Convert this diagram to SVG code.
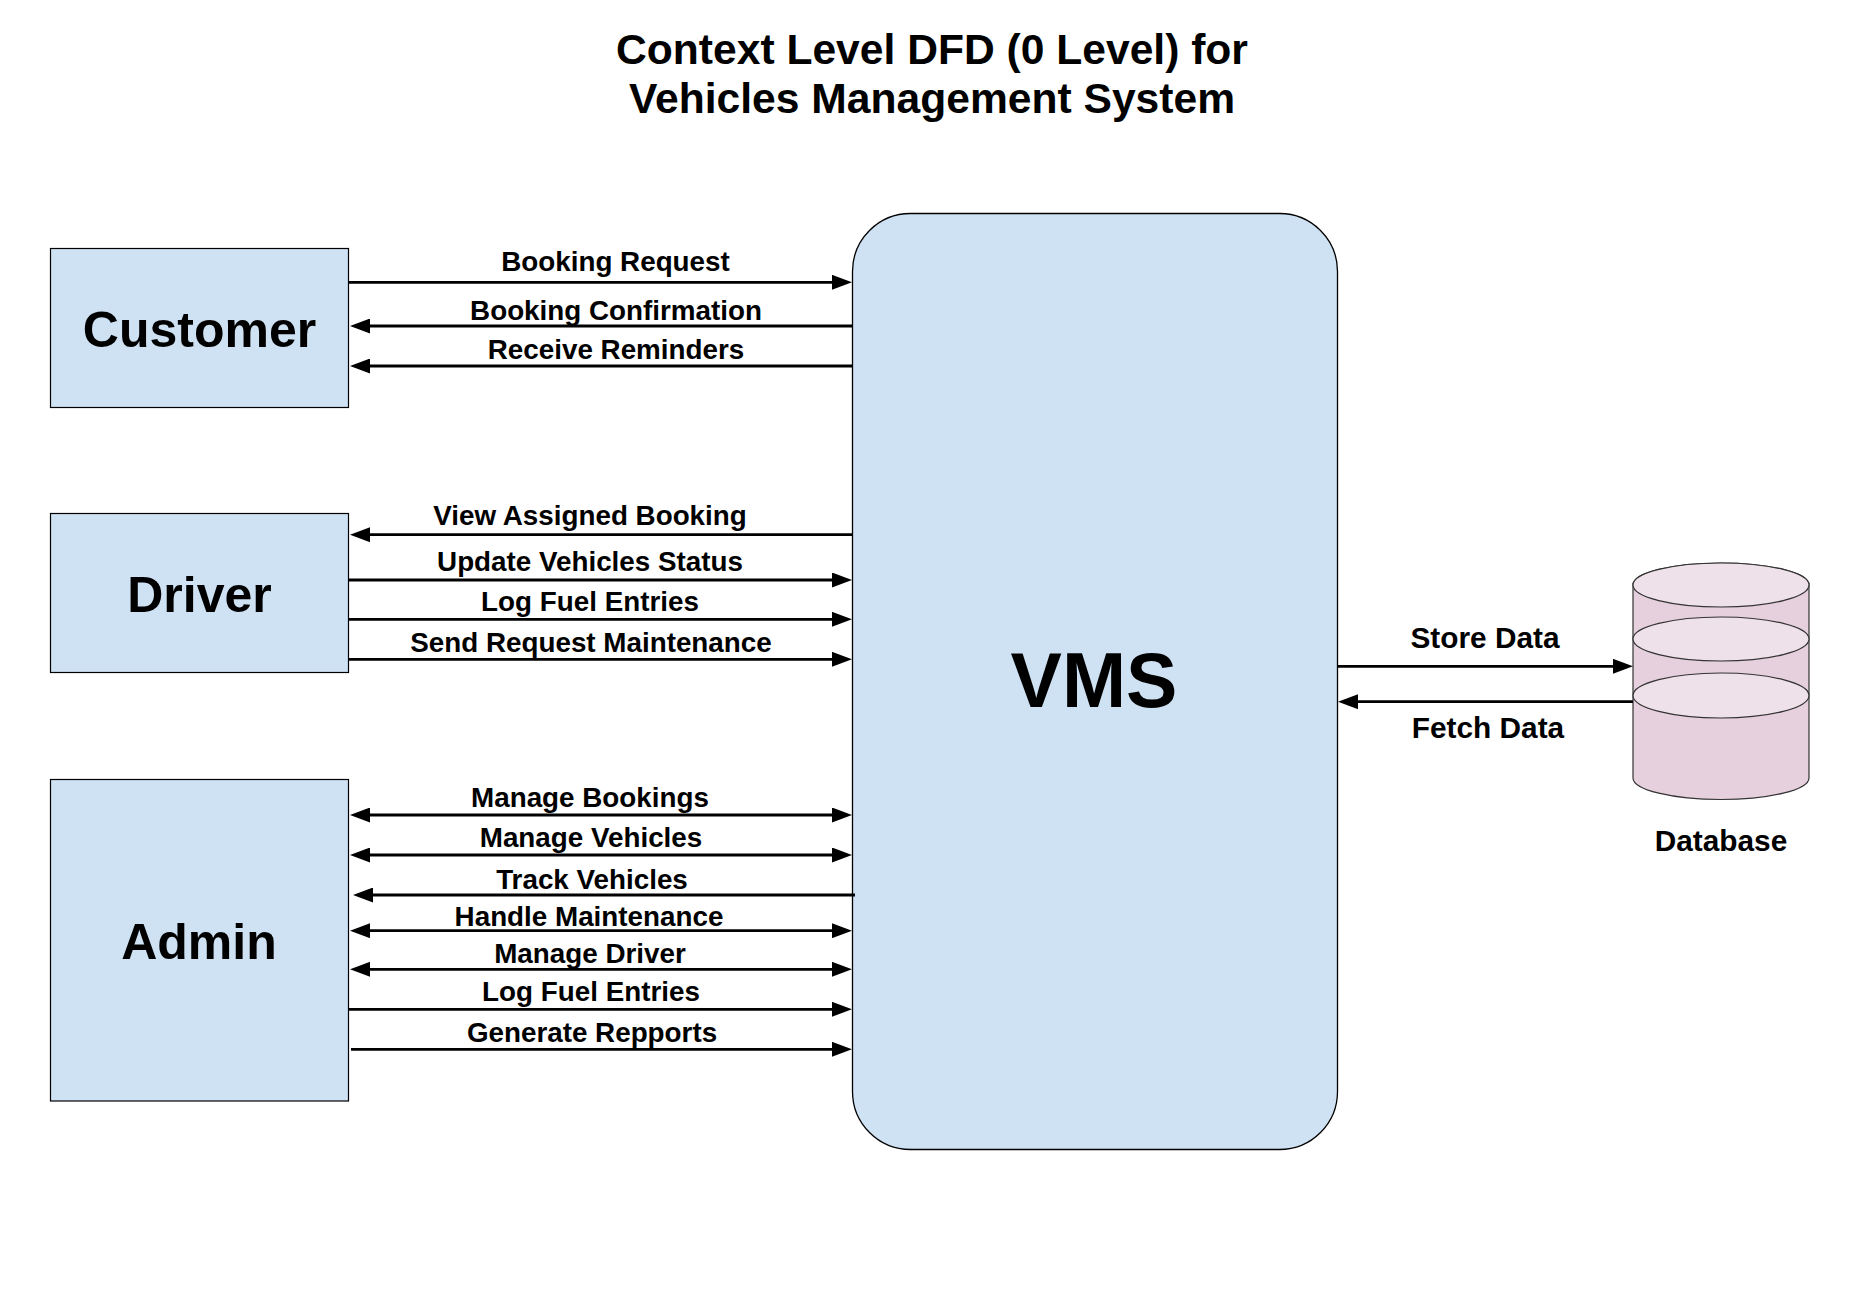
<svg xmlns="http://www.w3.org/2000/svg" width="1874" height="1313" viewBox="0 0 1874 1313">
<style>
.bg{fill:#ffffff}
.ent{fill:#cfe2f3;stroke:#000000;stroke-width:1.2}
.proc{fill:#cfe2f3;stroke:#000000;stroke-width:1.3}
.t{font-family:"Liberation Sans",Arial,sans-serif;font-weight:bold;fill:#000000;text-anchor:middle}
.title{font-size:42.6px}
.node{font-size:50px}
.vms{font-size:77px}
.lbl{font-size:27.8px}
.rl{font-size:29.8px}
.fl{fill:none;stroke:#000000;stroke-width:2.8}
.cylb{fill:#e6d0de;stroke:#333333;stroke-width:1.2}
.cyle{fill:#efe1e9;stroke:#333333;stroke-width:1.2}
</style>
<defs>
<marker id="ah" viewBox="0 0 20 15" refX="12" refY="7.5" markerWidth="20" markerHeight="15" markerUnits="userSpaceOnUse" orient="auto-start-reverse">
<path d="M0,0 L20,7.5 L0,15 z" fill="#000000"/>
</marker>
</defs>
<rect class="bg" x="0" y="0" width="1874" height="1313"/>
<g id="title">
<text class="t title" x="932" y="64">Context Level DFD (0 Level) for</text>
<text class="t title" x="932" y="113">Vehicles Management System</text>
</g>
<g id="customer">
<rect class="ent" x="50.5" y="248.5" width="298" height="159"/>
<text class="t node" x="199.5" y="346.5">Customer</text>
</g>
<g id="driver">
<rect class="ent" x="50.5" y="513.5" width="298" height="159"/>
<text class="t node" x="199.5" y="611.5">Driver</text>
</g>
<g id="admin">
<rect class="ent" x="50.5" y="779.5" width="298" height="321.5"/>
<text class="t node" x="199" y="958.5">Admin</text>
</g>
<g id="vms">
<rect class="proc" x="852.5" y="213.5" width="485" height="936" rx="58" ry="58"/>
<text class="t vms" x="1094" y="707">VMS</text>
</g>
<g id="database">
<path class="cylb" d="M1633,585 L1633,778 A88,21.5 0 0 0 1809,778 L1809,585 A88,22 0 0 0 1633,585 z"/>
<ellipse class="cyle" cx="1721" cy="585" rx="88" ry="22"/>
<ellipse class="cyle" cx="1721" cy="639" rx="88" ry="22"/>
<ellipse class="cyle" cx="1721" cy="695.5" rx="88" ry="22.5"/>
<text class="t rl" x="1721" y="851">Database</text>
</g>
<g id="connectors">
<line class="fl" x1="349" y1="282.3" x2="844" y2="282.3" marker-end="url(#ah)"/>
<line class="fl" x1="852" y1="326" x2="358" y2="326" marker-end="url(#ah)"/>
<line class="fl" x1="852" y1="366" x2="358" y2="366" marker-end="url(#ah)"/>
<line class="fl" x1="852" y1="534.7" x2="358" y2="534.7" marker-end="url(#ah)"/>
<line class="fl" x1="349" y1="580" x2="844" y2="580" marker-end="url(#ah)"/>
<line class="fl" x1="349" y1="619.3" x2="844" y2="619.3" marker-end="url(#ah)"/>
<line class="fl" x1="349" y1="659.3" x2="844" y2="659.3" marker-end="url(#ah)"/>
<line class="fl" x1="358" y1="815" x2="844" y2="815" marker-start="url(#ah)" marker-end="url(#ah)"/>
<line class="fl" x1="358" y1="855" x2="844" y2="855" marker-start="url(#ah)" marker-end="url(#ah)"/>
<line class="fl" x1="855" y1="895" x2="361" y2="895" marker-end="url(#ah)"/>
<line class="fl" x1="358" y1="930.7" x2="844" y2="930.7" marker-start="url(#ah)" marker-end="url(#ah)"/>
<line class="fl" x1="358" y1="969.3" x2="844" y2="969.3" marker-start="url(#ah)" marker-end="url(#ah)"/>
<line class="fl" x1="349" y1="1009.3" x2="844" y2="1009.3" marker-end="url(#ah)"/>
<line class="fl" x1="351" y1="1049.3" x2="844" y2="1049.3" marker-end="url(#ah)"/>
<line class="fl" x1="1337.5" y1="666.3" x2="1625" y2="666.3" marker-end="url(#ah)"/>
<line class="fl" x1="1633" y1="701.7" x2="1346" y2="701.7" marker-end="url(#ah)"/>
<text class="t lbl" x="615.5" y="270.7">Booking Request</text>
<text class="t lbl" x="616" y="320">Booking Confirmation</text>
<text class="t lbl" x="616" y="359.3">Receive Reminders</text>
<text class="t lbl" x="590" y="525">View Assigned Booking</text>
<text class="t lbl" x="590" y="570.7">Update Vehicles Status</text>
<text class="t lbl" x="590" y="611">Log Fuel Entries</text>
<text class="t lbl" x="591" y="651.7">Send Request Maintenance</text>
<text class="t lbl" x="590" y="807.3">Manage Bookings</text>
<text class="t lbl" x="591" y="846.7">Manage Vehicles</text>
<text class="t lbl" x="592" y="889.3">Track Vehicles</text>
<text class="t lbl" x="589" y="925.7">Handle Maintenance</text>
<text class="t lbl" x="590" y="962.7">Manage Driver</text>
<text class="t lbl" x="591" y="1001">Log Fuel Entries</text>
<text class="t lbl" x="592" y="1041.7">Generate Repports</text>
<text class="t rl" x="1485" y="648">Store Data</text>
<text class="t rl" x="1488" y="738">Fetch Data</text>
</g>
</svg>
